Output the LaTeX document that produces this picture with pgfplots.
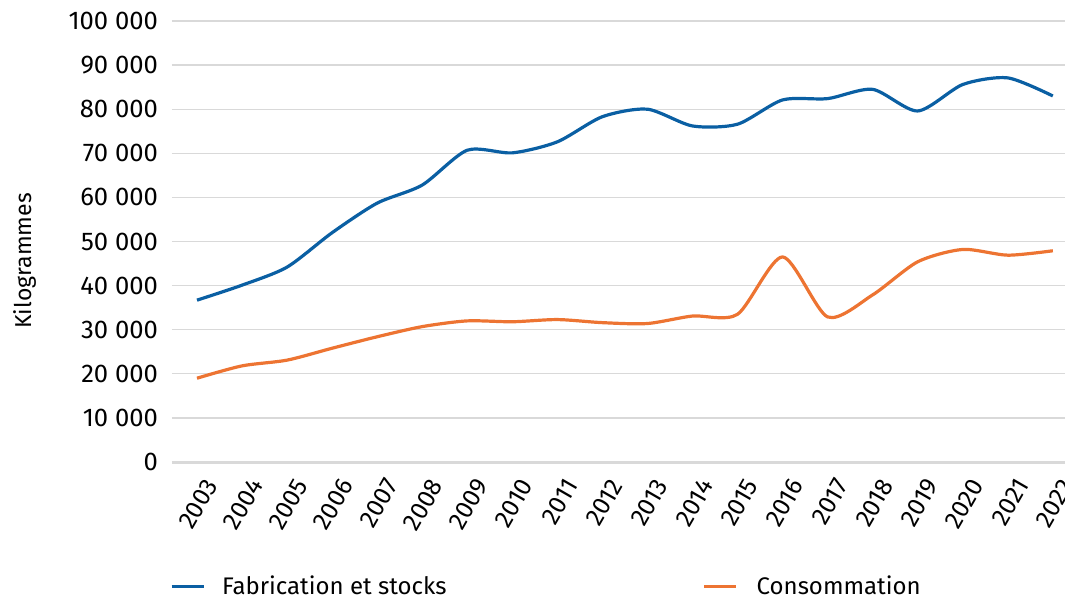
\documentclass[border=0pt]{standalone}
\usepackage{fontspec}
\setmainfont{Fira Sans}
\usepackage{pgfplots}
\pgfplotsset{compat=1.18}

\definecolor{fabblue}{HTML}{0A5FA3}
\definecolor{conorange}{HTML}{ED7432}
\definecolor{gridgray}{HTML}{D9D9D9}

\newcommand{\lbl}{\fontsize{12}{14}\selectfont}
\newcommand{\tck}{\fontsize{12.8}{15}\selectfont}

\begin{document}
\begin{tikzpicture}
\begin{axis}[
    scale only axis,
    width=446.5pt,
    height=220.5pt,
    xmin=2002.445, xmax=2022.27,
    ymin=0, ymax=100000,
    xtick={2003,...,2022},
    ytick={0,10000,...,100000},
    yticklabels={0,10 000,20 000,30 000,40 000,50 000,60 000,70 000,80 000,90 000,100 000},
    scaled x ticks=false,
    scaled y ticks=false,
    xticklabel style={xshift=9pt, yshift=-6.5pt, rotate=60, anchor=east, font=\fontsize{12.5}{14}\selectfont},
    yticklabel style={font=\tck, xshift=-3.5pt},
    x tick label style={/pgf/number format/1000 sep={}},
    /pgf/number format/assume math mode=true,
    major tick length=0pt,
    axis x line*=bottom,
    axis y line*=left,
    x axis line style={draw=gridgray, line width=1.5pt, -},
    y axis line style={draw=none},
    ymajorgrids=true,
    grid style={gridgray, line width=0.6pt},
    ylabel={Kilogrammes},
    ylabel style={font=\fontsize{11.5}{13}\selectfont, at={(axis description cs:-0.165,0.456)}, anchor=center},
    legend style={draw=none, fill=none, font=\lbl, legend columns=2,
        at={(axis description cs:-0.0094,-0.238)}, anchor=north west,
        /tikz/column 2/.style={column sep=126pt}},
    legend image code/.code={\draw[#1] (0pt,0pt) -- (16pt,0pt);},
    clip=false,
]

% Fabrication et stocks
\addplot[color=fabblue, line width=1.6pt, smooth, tension=0.45] coordinates {
(2003,36700)(2004,40100)(2005,44200)(2006,52000)(2007,58700)(2008,62800)
(2009,70700)(2010,70100)(2011,72600)(2012,78300)(2013,80000)(2014,76200)
(2015,76600)(2016,82100)(2017,82400)(2018,84500)(2019,79600)(2020,85600)
(2021,87100)(2022,83000)
};

% Consommation
\addplot[color=conorange, line width=1.6pt, smooth, tension=0.45] coordinates {
(2003,19000)(2004,21800)(2005,23100)(2006,25800)(2007,28400)(2008,30700)
(2009,32000)(2010,31800)(2011,32300)(2012,31600)(2013,31400)(2014,33100)
(2015,33500)(2016,46500)(2017,32900)(2018,37900)(2019,45400)(2020,48200)
(2021,46900)(2022,47900)
};

\legend{\hspace*{6.5pt}Fabrication et stocks, \hspace*{7.5pt}Consommation}

\coordinate (bl) at (rel axis cs:-0.1926,-0.3061);
\coordinate (tr) at (rel axis cs:1,1.0476);
\end{axis}
\pgfresetboundingbox
\path[use as bounding box] (bl) rectangle (tr);
\end{tikzpicture}
\end{document}
